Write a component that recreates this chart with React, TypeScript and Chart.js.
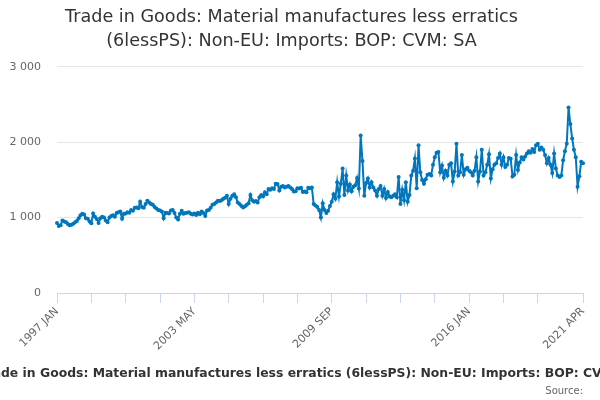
import React, { useEffect, useRef } from "react";
import { Chart, registerables } from "chart.js";

Chart.register(...registerables);

const FONT = '"DejaVu Sans", "Lucida Grande", Verdana, sans-serif';

const titleLines = [
  "Trade in Goods: Material manufactures less erratics",
  "(6lessPS): Non-EU: Imports: BOP: CVM: SA",
];
const axisTitle =
  "Trade in Goods: Material manufactures less erratics (6lessPS): Non-EU: Imports: BOP: CVM: SA";
const sourceText = "Source:";

const monthNames = ["JAN", "FEB", "MAR", "APR", "MAY", "JUN", "JUL", "AUG", "SEP", "OCT", "NOV", "DEC"];
const startYear = 1997;

// Monthly values, 1997 JAN .. 2021 APR
const values = [
  930, 890, 900, 960, 950, 940, 915, 900, 905, 920, 940, 955, // 1997
  990, 1030, 1050, 1040, 990, 985, 950, 925, 1055, 1010, 980, 930, // 1998
  990, 1010, 1000, 960, 940, 1000, 1020, 1030, 1010, 1060, 1070, 1080, // 1999
  985, 1050, 1055, 1070, 1065, 1100, 1090, 1130, 1135, 1125, 1210, 1140, // 2000
  1130, 1180, 1225, 1200, 1180, 1170, 1140, 1120, 1100, 1095, 1080, 990, // 2001
  1065, 1060, 1055, 1095, 1100, 1060, 1000, 975, 1050, 1090, 1050, 1060, // 2002
  1065, 1070, 1050, 1040, 1055, 1035, 1065, 1045, 1080, 1060, 1020, 1095, // 2003
  1100, 1130, 1170, 1180, 1200, 1225, 1220, 1230, 1250, 1265, 1290, 1180, // 2004
  1250, 1290, 1310, 1270, 1200, 1180, 1155, 1135, 1150, 1170, 1190, 1300, // 2005
  1230, 1210, 1220, 1200, 1270, 1300, 1280, 1335, 1310, 1380, 1370, 1390, // 2006
  1380, 1450, 1445, 1360, 1410, 1420, 1400, 1410, 1420, 1400, 1380, 1345, // 2007
  1350, 1390, 1385, 1395, 1340, 1345, 1335, 1395, 1390, 1400, 1180, 1160, // 2008
  1140, 1100, 1000, 1190, 1100, 1060, 1090, 1155, 1210, 1310, 1250, 1470, // 2009
  1280, 1450, 1650, 1300, 1560, 1360, 1440, 1350, 1410, 1430, 1525, 1385, // 2010
  2090, 1750, 1290, 1460, 1520, 1400, 1470, 1400, 1360, 1290, 1380, 1420, // 2011
  1290, 1380, 1260, 1340, 1280, 1270, 1290, 1310, 1270, 1540, 1180, 1370, // 2012
  1230, 1470, 1210, 1300, 1560, 1620, 1785, 1390, 1960, 1600, 1500, 1450, // 2013
  1510, 1570, 1580, 1560, 1700, 1800, 1860, 1870, 1600, 1690, 1530, 1620, // 2014
  1560, 1700, 1720, 1480, 1610, 1980, 1560, 1600, 1830, 1570, 1640, 1660, // 2015
  1620, 1600, 1560, 1620, 1800, 1480, 1610, 1900, 1560, 1600, 1700, 1840, // 2016
  1520, 1640, 1700, 1720, 1790, 1850, 1700, 1800, 1670, 1700, 1790, 1780, // 2017
  1545, 1570, 1830, 1630, 1730, 1800, 1770, 1810, 1850, 1880, 1860, 1910, // 2018
  1870, 1960, 1980, 1900, 1930, 1900, 1830, 1720, 1790, 1700, 1590, 1850, // 2019
  1650, 1560, 1540, 1560, 1760, 1880, 1980, 2460, 2240, 2050, 1900, 1800, // 2020
  1410, 1550, 1740, 1720, // 2021
];

const categories = values.map(
  (_, i) => `${startYear + Math.floor(i / 12)} ${monthNames[i % 12]}`
);

const tickLabels = ["1997 JAN", "2003 MAY", "2009 SEP", "2016 JAN", "2021 APR"];
const tickStep = 19;
const yTicks = [0, 1000, 2000, 3000];

const lineColor = "#0076bd";

function tickIndices(): number[] {
  const last = categories.length - 1;
  const out: number[] = [];
  for (let i = 0; i <= last - tickStep / 2; i += tickStep) out.push(i);
  out.push(last);
  return out;
}

function fmt(v: number): string {
  return String(v).replace(/\B(?=(\d{3})+(?!\d))/g, " ");
}

export default function App() {
  const ref = useRef<HTMLCanvasElement>(null);

  useEffect(() => {
    const canvas = ref.current;
    if (!canvas) return;

    const footerPlugin = {
      id: "footerText",
      afterDraw(chart: any) {
        const ctx = chart.ctx as CanvasRenderingContext2D;
        ctx.save();
        ctx.font = `bold 12.4px ${FONT}`;
        ctx.fillStyle = "#333333";
        ctx.textAlign = "left";
        ctx.textBaseline = "alphabetic";
        const x0 = 1 - ctx.measureText("Tra").width;
        ctx.fillText(axisTitle, x0, 377);
        ctx.font = `10px ${FONT}`;
        ctx.fillStyle = "#666666";
        ctx.textAlign = "right";
        ctx.fillText(sourceText, 583, 394);
        ctx.restore();
      },
    };

    const idx = tickIndices();

    const chart = new Chart(canvas, {
      type: "line",
      data: {
        labels: categories,
        datasets: [
          {
            data: values,
            borderColor: lineColor,
            backgroundColor: lineColor,
            borderWidth: 2,
            pointRadius: 2,
            pointBorderWidth: 0,
            pointBackgroundColor: lineColor,
            tension: 0,
            fill: false,
          },
        ],
      },
      options: {
        responsive: false,
        animation: false,
        layout: { padding: { left: 0, right: 17, top: 0, bottom: 0 } },
        plugins: {
          legend: { display: false },
          tooltip: { enabled: false },
          title: {
            display: true,
            text: titleLines,
            color: "#333333",
            font: { family: FONT, size: 17.6, weight: "normal", lineHeight: 1.33 },
            padding: { top: 6, bottom: 14 },
          },
        },
        scales: {
          x: {
            type: "category",
            offset: false,
            grid: {
              display: true,
              drawOnChartArea: false,
              drawTicks: true,
              tickLength: 10,
              color: "#ccd6eb",
            },
            border: { display: true, color: "#ccd6eb", width: 1 },
            ticks: {
              autoSkip: false,
              maxRotation: 45,
              minRotation: 45,
              padding: 2,
              color: "#666666",
              font: { family: FONT, size: 11 },
              callback(value: any) {
                const lab = categories[value as number];
                return tickLabels.includes(lab) ? lab : "";
              },
            },
            afterBuildTicks(axis: any) {
              axis.ticks = idx.map((v) => ({ value: v }));
            },
            afterFit(axis: any) {
              axis.height = 107;
            },
          },
          y: {
            min: 0,
            max: 3000,
            afterBuildTicks(axis: any) {
              axis.ticks = yTicks.map((v) => ({ value: v }));
            },
            grid: { color: "#e6e6e6", drawTicks: false },
            border: { display: false },
            ticks: {
              padding: 16,
              color: "#666666",
              font: { family: FONT, size: 11 },
              callback: (v: any) => fmt(Number(v)),
            },
            afterFit(axis: any) {
              axis.width = 57;
            },
          },
        },
      },
      plugins: [footerPlugin],
    } as any);

    return () => chart.destroy();
  }, []);

  return (
    <div style={{ position: "absolute", left: 0, top: 0, width: 600, height: 400 }}>
      <canvas ref={ref} width={600} height={400} style={{ display: "block" }} />
    </div>
  );
}
